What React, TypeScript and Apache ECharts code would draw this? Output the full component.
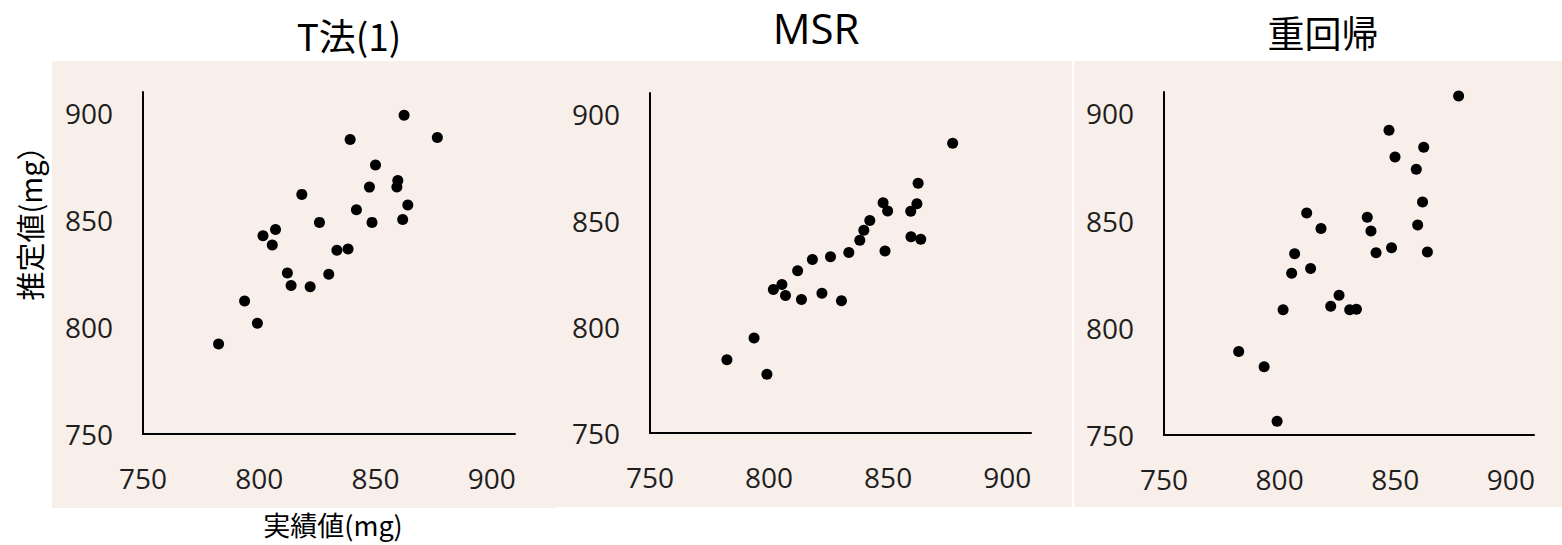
import React, { useEffect, useRef } from "react";
import * as echarts from "echarts";

// Panel titles and axis names
const panelTitles = ["T法(1)", "MSR", "重回帰"];
const xAxisName = "実績値(mg)";
const yAxisName = "推定値(mg）";
const tickValues = [750, 800, 850, 900];
const axisMin = 750;
const axisMax = 910;

// T法(1): actual vs estimated
const tActual = [862.3, 839.1, 876.6, 850.0, 847.4, 859.6, 859.2, 818.3, 863.9, 841.8, 848.5, 861.7, 825.9, 807.0, 801.6, 805.6, 833.4, 838.2, 812.1, 829.9, 813.7, 821.9, 793.7, 799.2, 782.5];
const tEstimate = [899.1, 887.8, 888.7, 875.8, 865.5, 868.6, 865.6, 862.1, 857.1, 854.9, 849.0, 850.4, 849.0, 845.7, 842.7, 838.4, 836.0, 836.5, 825.3, 824.7, 819.5, 818.9, 812.2, 801.8, 792.1];

// MSR
const msrActual = [862.6, 847.9, 849.8, 862.1, 859.5, 842.3, 839.8, 838.1, 859.6, 863.7, 848.7, 833.5, 825.8, 818.2, 812.0, 805.4, 801.8, 806.9, 813.6, 822.2, 830.4, 793.7, 782.3, 799.1, 877.1];
const msrEstimate = [867.5, 858.4, 854.5, 857.9, 854.4, 850.0, 845.4, 840.7, 842.4, 841.2, 835.6, 834.9, 832.9, 831.6, 826.4, 819.9, 817.5, 814.7, 812.8, 815.8, 812.2, 794.7, 784.5, 777.6, 886.4];

// 重回帰
const regActual = [877.4, 847.3, 862.3, 849.9, 859.1, 861.8, 811.7, 837.9, 817.9, 839.5, 859.7, 806.5, 841.7, 848.4, 863.9, 805.2, 813.4, 825.7, 822.1, 830.3, 833.2, 801.5, 782.3, 793.3, 798.9];
const regEstimate = [908.1, 892.2, 884.2, 879.7, 874.0, 858.7, 853.6, 851.6, 846.3, 845.2, 848.0, 834.5, 835.0, 837.3, 835.4, 825.5, 827.7, 815.2, 810.1, 808.4, 808.7, 808.4, 789.0, 781.8, 756.4];

const panelData = [
  [tActual, tEstimate],
  [msrActual, msrEstimate],
  [regActual, regEstimate],
];

const NUM_FONT = "'Open Sans', 'Noto Sans CJK JP', sans-serif";
const CJK_FONT = "'Noto Sans CJK JP', 'Open Sans', sans-serif";
const BG = "#F8EEEA";

export default function App() {
  const ref = useRef<HTMLDivElement>(null);

  useEffect(() => {
    if (!ref.current) return;
    const chart = echarts.init(ref.current, undefined, { renderer: "svg" });

    const grids = [
      { left: 143, top: 92, width: 372, height: 342 },
      { left: 650, top: 93, width: 381, height: 340 },
      { left: 1164, top: 92, width: 370, height: 343 },
    ];

    const labelFmt = (v: number) => (tickValues.indexOf(v) >= 0 ? String(v) : "");

    const axisCommon = {
      type: "value" as const,
      min: axisMin,
      max: axisMax,
      interval: 50,
      axisLine: { show: true, onZero: false, lineStyle: { color: "#000", width: 2 } },
      axisTick: { show: false },
      splitLine: { show: false },
      axisLabel: {
        margin: 30,
        fontSize: 28,
        color: "#1e1e1e",
        fontFamily: NUM_FONT,
        formatter: labelFmt,
        showMaxLabel: false,
      },
    };

    const titlePos = [
      { x: 349, y: 35, size: 37 },
      { x: 816, y: 27, size: 42 },
      { x: 1323, y: 32, size: 37 },
    ];

    const option: any = {
      animation: false,
      backgroundColor: "#fff",
      grid: grids,
      xAxis: grids.map((_, i) => ({ ...axisCommon, gridIndex: i })),
      yAxis: grids.map((_, i) => ({ ...axisCommon, gridIndex: i })),
      series: panelData.map(([xs, ys], i) => ({
        type: "scatter",
        xAxisIndex: i,
        yAxisIndex: i,
        symbol: "circle",
        symbolSize: 11,
        itemStyle: { color: "#000", opacity: 1 },
        data: xs.map((x, k) => [x, ys[k]]),
      })),
      graphic: [
        { type: "rect", z: -10, shape: { x: 52, y: 61, width: 505, height: 447 }, style: { fill: BG } },
        { type: "rect", z: -10, shape: { x: 557, y: 61, width: 515, height: 446 }, style: { fill: BG } },
        { type: "rect", z: -10, shape: { x: 1074, y: 61, width: 488, height: 446 }, style: { fill: BG } },
        ...panelTitles.map((t, i) => ({
          type: "text",
          x: titlePos[i].x,
          y: titlePos[i].y,
          style: {
            text: t,
            fill: "#000",
            fontSize: titlePos[i].size,
            fontFamily: i === 1 ? NUM_FONT : CJK_FONT,
            textAlign: "center",
            textVerticalAlign: "middle",
          },
        })),
        {
          type: "text",
          x: 333,
          y: 524,
          style: {
            text: xAxisName,
            fill: "#000",
            fontSize: 27,
            fontFamily: CJK_FONT,
            textAlign: "center",
            textVerticalAlign: "middle",
          },
        },
        {
          type: "text",
          x: 29,
          y: 216,
          rotation: Math.PI / 2,
          style: {
            text: yAxisName,
            fill: "#000",
            fontSize: 29,
            fontFamily: CJK_FONT,
            textAlign: "center",
            textVerticalAlign: "middle",
          },
        },
      ],
    };

    chart.setOption(option);
    return () => chart.dispose();
  }, []);

  return (
    <div
      ref={ref}
      style={{ position: "fixed", left: 0, top: 0, width: 1562, height: 545 }}
    />
  );
}
